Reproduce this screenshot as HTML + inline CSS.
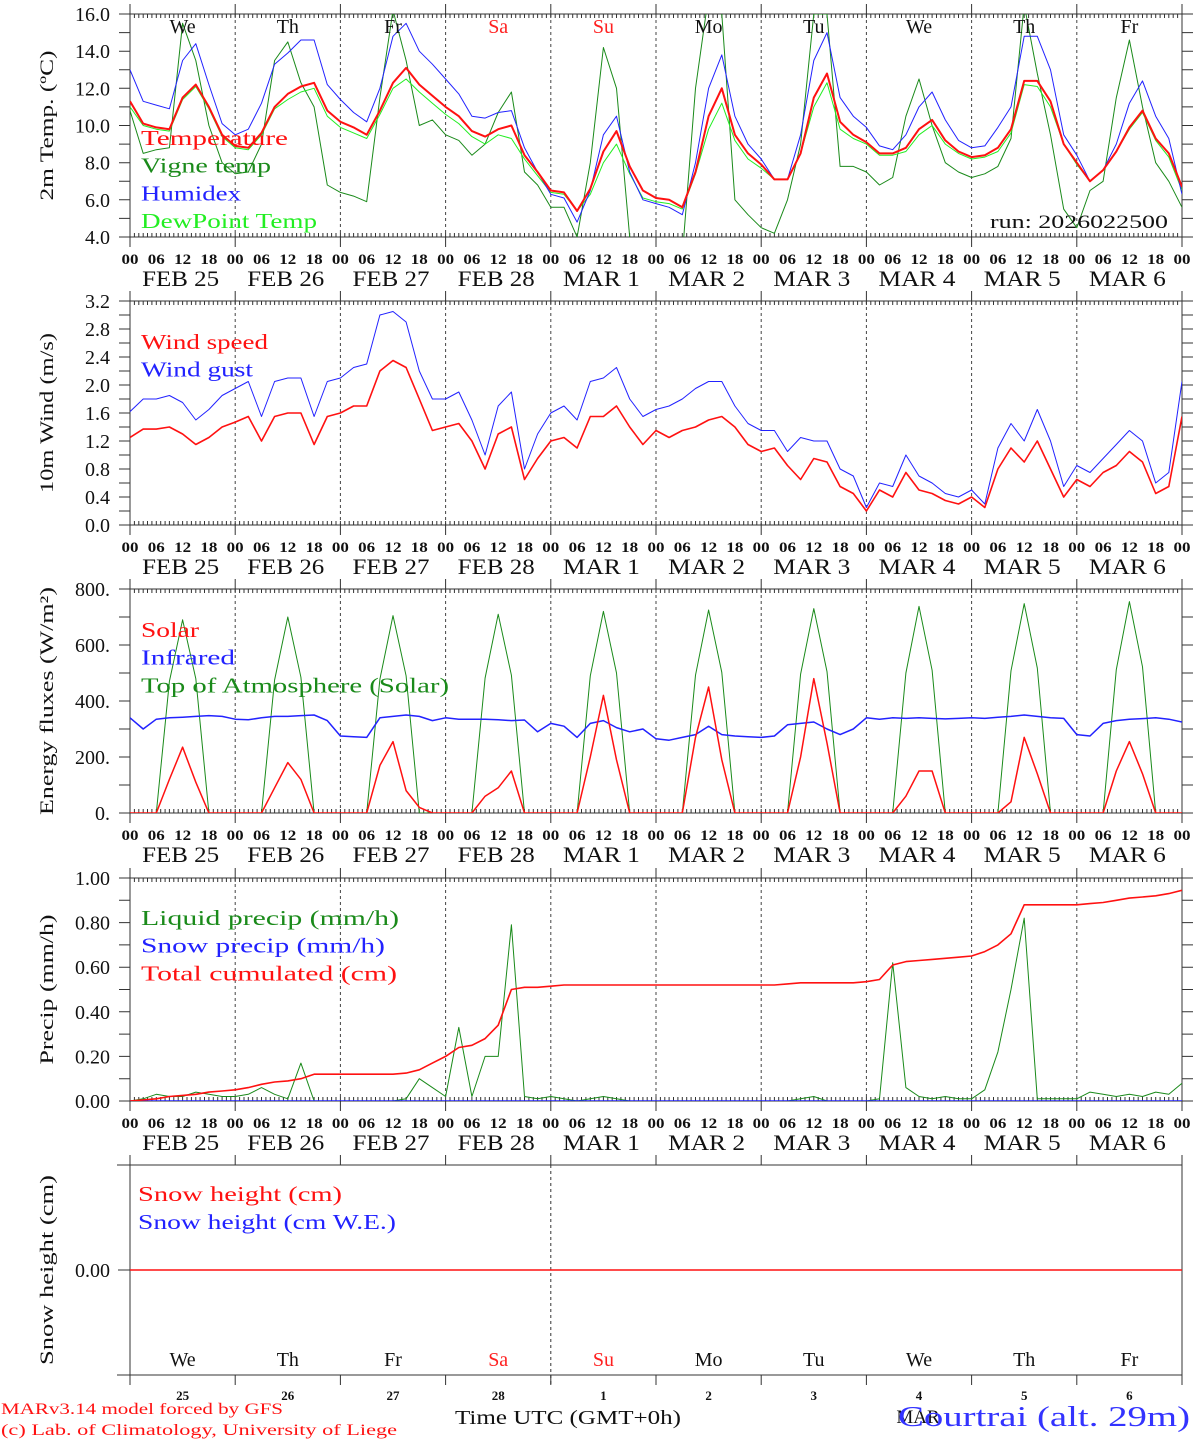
<!DOCTYPE html>
<html><head><meta charset="utf-8"><style>
html,body{margin:0;padding:0;background:#fff;}
svg{display:block;font-family:"Liberation Serif",serif;}
</style></head><body>
<svg id="chart" width="1194" height="1440" viewBox="0 0 1194 1440" xmlns="http://www.w3.org/2000/svg"></svg>
<script>
// ---------- DATA (3-hourly from Feb 25 00 UTC) ----------
const dayNames = ["We","Th","Fr","Sa","Su","Mo","Tu","We","Th","Fr"];
const dayDates = ["FEB 25","FEB 26","FEB 27","FEB 28","MAR  1","MAR  2","MAR  3","MAR  4","MAR  5","MAR  6"];
const dayNums = ["25","26","27","28","1","2","3","4","5","6"];
const hourLabels = ["00","06","12","18"];
const tempTicks = [4,6,8,10,12,14,16];
const windTicks = [0,0.4,0.8,1.2,1.6,2.0,2.4,2.8,3.2];
const fluxTicks = [0,200,400,600,800];
const precipTicks = [0,0.2,0.4,0.6,0.8,1.0];

const temperature = [11.3,10.1,9.9,9.8,11.5,12.2,11.0,9.5, 8.9,8.8,9.6,11.0,11.7,12.1,12.3,10.8, 10.2,9.9,9.5,10.8,12.3,13.1,12.2,11.6, 11.0,10.5,9.7,9.4,9.8,10.0,8.4,7.5, 6.5,6.4,5.4,6.6,8.6,9.7,7.8,6.5, 6.1,6.0,5.6,7.5,10.5,12.0,9.5,8.5, 7.9,7.1,7.1,8.5,11.5,12.8,10.2,9.5, 9.1,8.5,8.5,8.8,9.8,10.3,9.2,8.6, 8.3,8.4,8.8,9.8,12.4,12.4,11.3,9.0, 8.0,7.0,7.6,8.6,9.9,10.8,9.3,8.5,6.7];
const vigne = [10.8,8.5,8.7,8.8,15.5,13.5,10.0,8.0, 7.4,7.5,9.0,13.5,14.5,12.3,11.0,6.8, 6.4,6.2,5.9,11.5,16.2,13.5,10.0,10.3, 9.5,9.2,8.4,9.0,10.7,11.8,7.5,6.8, 5.6,5.6,4.0,8.0,14.2,12.0,4.0,3.0, 2.0,1.5,3.0,12.0,17.0,16.0,6.0,5.2, 4.5,4.2,6.0,9.0,16.0,16.0,7.8,7.8, 7.5,6.8,7.2,10.5,12.5,10.0,8.0,7.5, 7.2,7.4,7.8,9.3,16.5,12.8,9.5,5.5, 4.5,6.5,7.0,11.5,14.6,11.0,8.0,7.0,5.6];
const humidex = [13.0,11.3,11.1,10.9,13.5,14.4,12.2,10.1, 9.5,9.8,11.2,13.3,13.9,14.6,14.6,12.2, 11.4,10.7,10.2,12.0,14.8,15.5,14.0,13.3, 12.5,11.7,10.5,10.4,10.7,10.8,8.8,7.5, 6.3,6.1,4.8,6.5,9.5,10.5,7.5,6.0, 5.8,5.6,5.2,8.0,12.0,13.8,10.5,9.0, 8.2,7.1,7.1,9.5,13.5,15.0,11.5,10.5, 9.9,8.9,8.7,9.5,11.0,11.8,10.3,9.2, 8.8,8.9,9.9,11.0,14.8,14.8,13.0,9.5, 8.4,7.0,7.6,9.0,11.2,12.4,10.5,9.3,6.3];
const dewpoint = [11.0,10.0,9.8,9.7,11.4,12.1,10.9,9.4, 8.8,8.7,9.5,10.9,11.4,11.8,12.0,10.5, 9.9,9.6,9.3,10.6,12.0,12.5,11.8,11.2, 10.6,10.1,9.4,9.0,9.5,9.3,8.2,7.3, 6.4,6.3,5.4,6.3,8.0,9.0,7.4,6.1, 5.9,5.8,5.5,7.4,9.8,11.2,9.2,8.2, 7.7,7.1,7.1,8.5,11.0,12.3,9.8,9.3, 9.0,8.4,8.4,8.6,9.5,10.0,9.0,8.5, 8.2,8.3,8.6,9.6,12.2,12.1,11.0,9.0, 7.9,7.0,7.6,8.6,9.8,10.7,9.2,8.3,6.5];

const windSpeed = [1.25,1.37,1.37,1.40,1.30,1.15,1.25,1.40, 1.47,1.55,1.20,1.55,1.60,1.60,1.15,1.55, 1.60,1.70,1.70,2.20,2.35,2.25,1.80,1.35, 1.40,1.45,1.20,0.80,1.30,1.40,0.65,0.95, 1.20,1.25,1.10,1.55,1.55,1.70,1.40,1.15, 1.35,1.25,1.35,1.40,1.50,1.55,1.40,1.15, 1.05,1.10,0.85,0.65,0.95,0.90,0.55,0.45, 0.20,0.50,0.40,0.75,0.50,0.45,0.35,0.30, 0.40,0.25,0.80,1.10,0.90,1.20,0.80,0.40, 0.65,0.55,0.75,0.85,1.05,0.90,0.45,0.55,1.55];
const windGust = [1.62,1.80,1.80,1.85,1.75,1.50,1.65,1.85, 1.95,2.05,1.55,2.05,2.10,2.10,1.55,2.05, 2.10,2.25,2.30,3.00,3.05,2.90,2.20,1.80, 1.80,1.90,1.50,1.00,1.70,1.90,0.80,1.30, 1.60,1.70,1.50,2.05,2.10,2.25,1.80,1.55, 1.65,1.70,1.80,1.95,2.05,2.05,1.70,1.45, 1.35,1.35,1.05,1.25,1.20,1.20,0.80,0.70, 0.25,0.60,0.55,1.00,0.70,0.60,0.45,0.40, 0.50,0.30,1.10,1.45,1.20,1.65,1.20,0.55, 0.85,0.75,0.95,1.15,1.35,1.20,0.60,0.75,2.05];

const solar = [0,0,0,120,235,110,0,0, 0,0,0,90,180,120,0,0, 0,0,0,170,255,80,20,0, 0,0,0,60,90,150,0,0, 0,0,0,200,420,190,0,0, 0,0,0,270,450,190,0,0, 0,0,0,200,480,250,0,0, 0,0,0,60,150,150,0,0, 0,0,0,40,270,140,0,0, 0,0,0,150,255,140,0,0,0];
const infrared = [340,300,335,340,342,345,348,345, 335,333,340,345,345,348,350,330, 275,272,270,340,345,350,345,330, 340,335,335,335,333,330,332,290, 320,310,270,320,330,305,290,300, 265,260,270,280,310,280,275,272, 270,275,315,320,325,300,280,300, 340,335,340,338,340,338,336,338, 340,338,342,345,350,345,340,338, 280,275,320,330,335,337,340,335,325];
const toaSolar = [0,0,0,470,690,480,0,0, 0,0,0,475,700,485,0,0, 0,0,0,478,705,490,0,0, 0,0,0,482,710,492,0,0, 0,0,0,490,720,500,0,0, 0,0,0,492,725,502,0,0, 0,0,0,496,730,505,0,0, 0,0,0,500,738,510,0,0, 0,0,0,508,748,518,0,0, 0,0,0,512,755,522,0,0,0];

const liquidPrecip = [0.00,0.01,0.03,0.02,0.02,0.04,0.03,0.02, 0.02,0.03,0.06,0.03,0.01,0.17,0.00,0.00, 0.00,0.00,0.00,0.00,0.00,0.01,0.10,0.06, 0.02,0.33,0.02,0.20,0.20,0.79,0.02,0.01, 0.02,0.01,0.00,0.01,0.02,0.01,0.00,0.00, 0,0,0,0,0,0,0,0, 0,0,0,0.01,0.02,0,0,0, 0.00,0.01,0.62,0.06,0.02,0.01,0.02,0.01, 0.01,0.05,0.22,0.50,0.82,0.01,0.01,0.01, 0.01,0.04,0.03,0.02,0.03,0.02,0.04,0.03,0.08];
const snowPrecip = [0,0,0,0,0,0,0,0, 0,0,0,0,0,0,0,0, 0,0,0,0,0,0,0,0, 0,0,0,0,0,0,0,0, 0,0,0,0,0,0,0,0, 0,0,0,0,0,0,0,0, 0,0,0,0,0,0,0,0, 0,0,0,0,0,0,0,0, 0,0,0,0,0,0,0,0, 0,0,0,0,0,0,0,0,0];
const totalCum = [0,0.005,0.01,0.02,0.025,0.03,0.04,0.045, 0.05,0.06,0.075,0.085,0.09,0.10,0.12,0.12, 0.12,0.12,0.12,0.12,0.12,0.125,0.14,0.17, 0.20,0.24,0.25,0.28,0.34,0.50,0.51,0.51, 0.515,0.52,0.52,0.52,0.52,0.52,0.52,0.52, 0.52,0.52,0.52,0.52,0.52,0.52,0.52,0.52, 0.52,0.52,0.525,0.53,0.53,0.53,0.53,0.53, 0.535,0.545,0.61,0.625,0.63,0.635,0.64,0.645, 0.65,0.67,0.70,0.75,0.88,0.88,0.88,0.88, 0.88,0.885,0.89,0.90,0.91,0.915,0.92,0.93,0.945];
const snowHeight = [0,0];

// ---------- DRAWING ----------
const NS = "http://www.w3.org/2000/svg";
const svg = document.getElementById("chart");
const X0 = 130, X1 = 1182, HOURS = 240;
function xAt(h){ return X0 + h * (X1 - X0) / HOURS; }
function mk(tag, attrs, parent){
  const e = document.createElementNS(NS, tag);
  for (const k in attrs) e.setAttribute(k, attrs[k]);
  (parent || svg).appendChild(e);
  return e;
}
function txt(s, x, y, size, color, anchor, parent, extra){
  const t = mk("text", Object.assign({x:x, y:y, "font-size":size, fill:color, "text-anchor":anchor||"start"}, extra||{}), parent);
  t.textContent = s;
  return t;
}

const panels = [
  {name:"temperature", top:14, bot:237, min:4, max:16, minor:1, ticks:tempTicks, fmt:v=>v.toFixed(1), title:"2m Temp. (ºC)", tl:150},
  {name:"wind", top:301, bot:525, min:0, max:3.2, minor:0.2, ticks:windTicks, fmt:v=>v.toFixed(1), title:"10m Wind (m/s)", tl:160},
  {name:"energy", top:589, bot:813, min:0, max:800, minor:100, ticks:fluxTicks, fmt:v=>v.toFixed(0)+".", title:"Energy fluxes (W/m²)", tl:228},
  {name:"precip", top:878, bot:1101, min:0, max:1, minor:0.1, ticks:precipTicks, fmt:v=>v.toFixed(2), title:"Precip (mm/h)", tl:150}
];

panels.forEach((p, pi) => {
  const g = mk("g", {});
  
  
  p.y = v => p.bot - (v - p.min) / (p.max - p.min) * (p.bot - p.top);
  const cp = mk("clipPath", {id:"clip"+pi}, g);
  mk("rect", {x:X0, y:p.top, width:X1-X0, height:p.bot-p.top}, cp);
  p.g = g;
  for (let d = 1; d < 10; d++){
    const l = mk("line", {x1:xAt(d*24), x2:xAt(d*24), y1:p.top, y2:p.bot, stroke:"#444", "stroke-width":1, "stroke-dasharray":"3,3"}, g);
    
    
  }
  mk("rect", {x:X0, y:p.top, width:X1-X0, height:p.bot-p.top, fill:"none", stroke:"#333", "stroke-width":1}, g);
  let d = "";
  for (let h = 0; h <= HOURS; h++){
    const x = xAt(h).toFixed(1);
    d += `M${x} ${p.top}v4M${x} ${p.bot}v-4`;
  }
  for (let k = 0; k <= 10; k++){
    const x = xAt(k*24).toFixed(1);
    d += `M${x} ${p.top}v-10M${x} ${p.bot}v10`;
  }
  for (let v = p.min; v <= p.max + 1e-9; v += p.minor){
    const y = p.y(v).toFixed(1);
    d += `M${X0} ${y}h-11M${X1} ${y}h11`;
  }
  mk("path", {d:d, stroke:"#333", "stroke-width":1, fill:"none"}, g);
  p.ticks.forEach(v => {
    const t = txt(p.fmt(v), 110, p.y(v) + 7, 20, "#111", "end", g);
    
    
  });
  const cy = (p.top + p.bot) / 2;
  const tt = txt(p.title, 47, cy, 19, "#111", "middle", g, {transform:`rotate(-90 47 ${cy})`, dy:6, textLength:p.tl, lengthAdjust:"spacingAndGlyphs"});
  
  
  for (let k = 0; k <= 10; k++){
    for (let j = 0; j < 4; j++){
      if (k === 10 && j > 0) break;
      const t = txt(hourLabels[j], xAt(k*24 + j*6), p.bot + 27, 15, "#111", "middle", g, {"font-weight":"bold", textLength:17, lengthAdjust:"spacingAndGlyphs"});
      
      
    }
    if (k < 10){
      const t = txt(dayDates[k], xAt(k*24 + 12) - 2, p.bot + 49, 22, "#111", "middle", g, {"xml:space":"preserve", textLength:77, lengthAdjust:"spacingAndGlyphs"});
      
      
    }
  }
});

function series(p, pi, arr, color, width, name){
  let d = "";
  arr.forEach((v, i) => { d += (i ? "L" : "M") + xAt(i*3).toFixed(1) + " " + p.y(v).toFixed(1); });
  const path = mk("path", {d:d, fill:"none", stroke:color, "stroke-width":width, "clip-path":`url(#clip${pi})`, "stroke-linejoin":"round"}, p.g);
  
  
}
function legend(p, items, y0){
  items.forEach((it, i) => {
    const t = txt(it[0], 141, y0 + i*27.7, 21, it[1], "start", p.g, {textLength:it[2], lengthAdjust:"spacingAndGlyphs"});
    
    
  });
}

const P1 = panels[0];
series(P1, 0, vigne, "#1a8a1a", 1, "vigne-temp-line");
series(P1, 0, dewpoint, "#22ee22", 1, "dewpoint-line");
series(P1, 0, humidex, "#2222ff", 1, "humidex-line");
series(P1, 0, temperature, "#ff1111", 2, "temperature-line");
dayNames.forEach((n, k) => {
  const t = txt(n, xAt(k*24 + 12), 33, 20, (k===3||k===4) ? "#ff2020" : "#111", "middle", P1.g);
  
  
});
legend(P1, [["Temperature","#ff1111",147],["Vigne temp","#1a8a1a",130],["Humidex","#2222ff",100],["DewPoint Temp","#22ee22",176]], 145);
(function(){ const t = txt("run: 2026022500", 1168, 228, 19, "#111", "end", P1.g, {textLength:178, lengthAdjust:"spacingAndGlyphs"});

 })();

const P2 = panels[1];
series(P2, 1, windGust, "#2222ff", 1, "wind-gust-line");
series(P2, 1, windSpeed, "#ff1111", 1.6, "wind-speed-line");
legend(P2, [["Wind speed","#ff1111",127],["Wind gust","#2222ff",112]], 349);

const P3 = panels[2];
series(P3, 2, toaSolar, "#1a8a1a", 1, "toa-solar-line");
series(P3, 2, infrared, "#2222ff", 1.5, "infrared-line");
series(P3, 2, solar, "#ff1111", 1.5, "solar-line");
legend(P3, [["Solar","#ff1111",58],["Infrared","#2222ff",94],["Top of Atmosphere (Solar)","#1a8a1a",308]], 637);

const P4 = panels[3];
series(P4, 3, liquidPrecip, "#1a8a1a", 1, "liquid-precip-line");
series(P4, 3, snowPrecip, "#2222ff", 1.5, "snow-precip-line");
series(P4, 3, totalCum, "#ff1111", 1.6, "total-cumulated-line");
legend(P4, [["Liquid precip (mm/h)","#1a8a1a",258],["Snow precip (mm/h)","#2222ff",244],["Total cumulated (cm)","#ff1111",256]], 925);

const g5 = mk("g", {});


const T5 = 1165, B5 = 1375, Y5 = 1270;
mk("line", {x1:117, x2:X1, y1:T5, y2:T5, stroke:"#333"}, g5);
mk("line", {x1:117, x2:X1, y1:B5, y2:B5, stroke:"#333"}, g5);
mk("line", {x1:X0, x2:X0, y1:T5-10, y2:B5+10, stroke:"#333"}, g5);
mk("line", {x1:X1, x2:X1, y1:T5-10, y2:B5+10, stroke:"#333"}, g5);
mk("line", {x1:118, x2:X0, y1:Y5, y2:Y5, stroke:"#333"}, g5);
let d5 = "";
for (let k = 1; k < 10; k++){ const x = xAt(k*24).toFixed(1); d5 += `M${x} ${T5}v-10M${x} ${B5}v10`; }
mk("path", {d:d5, stroke:"#333", fill:"none"}, g5);
mk("line", {x1:xAt(96), x2:xAt(96), y1:T5, y2:B5+12, stroke:"#333", "stroke-dasharray":"3,3"}, g5);
(function(){
  const sy = v => Y5 - v * 100;
  let d = "";
  snowHeight.forEach((v, i) => { d += (i ? "L" : "M") + xAt(i * HOURS / (snowHeight.length - 1)) + " " + sy(v); });
  const p = mk("path", {d:d, stroke:"#ff1111", "stroke-width":1.5, fill:"none"}, g5);
  
  
})();
(function(){
  const t = txt("0.00", 110, Y5 + 7, 20, "#111", "end", g5);
  
  
  const tt = txt("Snow height (cm)", 47, 1270, 19, "#111", "middle", g5, {transform:"rotate(-90 47 1270)", dy:6, textLength:190, lengthAdjust:"spacingAndGlyphs"});
  
  
  const l1 = txt("Snow height (cm)", 138, 1201, 21, "#ff1111", "start", g5, {textLength:204, lengthAdjust:"spacingAndGlyphs"});
  
  
  const l2 = txt("Snow height (cm W.E.)", 138, 1229, 21, "#2222ff", "start", g5, {textLength:258, lengthAdjust:"spacingAndGlyphs"});
  
  
})();
dayNames.forEach((n, k) => {
  const t = txt(n, xAt(k*24 + 12), 1366, 20, (k===3||k===4) ? "#ff2020" : "#111", "middle", g5);
  
  
  const t2 = txt(dayNums[k], xAt(k*24 + 12), 1400, 13, "#111", "middle", g5, {"font-weight":"bold"});
  
  
});
(function(){
  const m = txt("MAR", 918, 1423, 19, "#111", "middle", g5);
  
  
  const t = txt("Time UTC (GMT+0h)", 568, 1424, 20, "#111", "middle", g5, {textLength:226, lengthAdjust:"spacingAndGlyphs"});
  
  
  const c = txt("Courtrai (alt. 29m)", 1190, 1426, 28, "#3333ff", "end", g5, {textLength:292, lengthAdjust:"spacingAndGlyphs"});
  
  
  const f1 = txt("MARv3.14 model forced by GFS", 1, 1414, 16, "#ff1111", "start", g5, {textLength:282, lengthAdjust:"spacingAndGlyphs"});
  
  
  const f2 = txt("(c) Lab. of Climatology, University of Liege", 1, 1435, 16, "#ff1111", "start", g5, {textLength:396, lengthAdjust:"spacingAndGlyphs"});
  
  
})();
</script>
</body></html>
